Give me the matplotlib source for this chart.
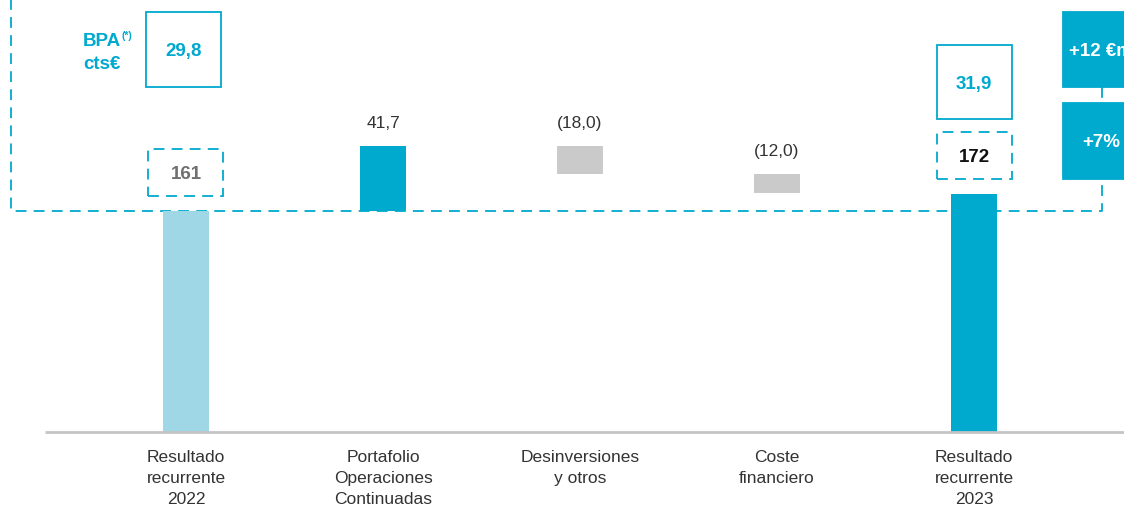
import matplotlib
matplotlib.use("Agg")
import matplotlib.pyplot as plt
import matplotlib.transforms as mtransforms
from matplotlib.patches import Rectangle

plt.rcParams['font.family'] = ['Liberation Sans', 'DejaVu Sans']

# waterfall data (M€)
categories = ["Resultado\nrecurrente\n2022", "Portafolio\nOperaciones\nContinuadas",
              "Desinversiones\ny otros", "Coste\nfinanciero", "Resultado\nrecurrente\n2023"]
start_value = 161
steps = [41.7, -18.0, -12.0]
end_value = 172
step_labels = ["41,7", "(18,0)", "(12,0)"]
bpa_values = ["29,8", "31,9"]
growth_labels = ["+12 €m", "+7%"]

TEAL = "#00a9ce"
LIGHT = "#a0d7e7"
GREY_BAR = "#cacaca"
TEXT = "#333333"

W, H = 1124, 510
fig = plt.figure(figsize=(W / 100, H / 100), dpi=100)
ax = fig.add_axes([0, 0, 1, 1])
ax.set_xlim(-0.944, 4.761)
ax.set_ylim(-31.3, 297.8)
ax.axis("off")

# pixel coords measured from the top-left corner
px = mtransforms.Affine2D().scale(1 / W, -1 / H).translate(0, 1) + fig.transFigure

base = 18.4
bw = 0.234
x = list(range(len(categories)))

# totals
ax.bar(x[0], start_value - base, bottom=base, width=bw, color=LIGHT, zorder=3)
ax.bar(x[-1], end_value - base, bottom=base, width=bw, color=TEAL, zorder=3)

# steps
level = start_value
for i, (s, lab) in enumerate(zip(steps, step_labels), start=1):
    bottom = level if s > 0 else level + s
    ax.bar(x[i], abs(s), bottom=bottom, width=bw,
           color=TEAL if s > 0 else GREY_BAR, zorder=3)
    ax.annotate(lab, (x[i], bottom + abs(s)), xytext=(0, 17), textcoords="offset points",
                ha="center", va="center", fontsize=12.5, color=TEXT)
    level += s

# baseline
ax.plot([45, W], [433, 433], transform=px, color="#c4c4c4", lw=2, zorder=4,
        solid_capstyle="butt", clip_on=False)

# category labels
lab_tr = mtransforms.blended_transform_factory(ax.transData, px)
for xi, cat in zip(x, categories):
    ax.text(xi, 450, cat, transform=lab_tr, ha="center", va="top",
            fontsize=12.5, color=TEXT, linespacing=1.5)

# dashed outline of the BPA panel
dash = dict(color=TEAL, lw=1.3, ls=(0, (6, 4)), transform=px, clip_on=False, zorder=2)
row161 = H - ax.transData.transform((0, start_value))[1]
ax.plot([11, 11, 1102, 1102], [-5, row161, row161, 180], **dash)
ax.plot([1102, 1102], [88, 104], **dash)


def box(x0, r0, w, h, text, edge=TEAL, face="none", dashed=False, tcolor=TEAL):
    ax.add_patch(Rectangle((x0, r0 + h), w, -h, transform=px, facecolor=face,
                           edgecolor=edge, lw=1.3, ls=(0, (6, 4)) if dashed else "-",
                           clip_on=False, zorder=5))
    ax.text(x0 + w / 2, r0 + h / 2 + 1, text, transform=px, ha="center", va="center",
            fontsize=13.5, fontweight="bold", color=tcolor, zorder=6)


def bar_center_px(i):
    return ax.transData.transform((x[i], 0))[0]


def bar_top_row(value):
    return H - ax.transData.transform((0, value))[1]


# value boxes above the totals
c0, c4 = bar_center_px(0), bar_center_px(4)
box(c0 - 37.5, bar_top_row(start_value) - 15 - 47, 75, 47, str(start_value),
    dashed=True, tcolor="#707070")
box(c4 - 37.5, bar_top_row(end_value) - 15 - 47, 75, 47, str(end_value),
    dashed=True, tcolor="#111111")

# BPA boxes
box(c0 - 40, 13, 75, 75, bpa_values[0])
box(c4 - 37.5, 46, 75, 74, bpa_values[1])

# growth boxes (the right one runs off the edge)
box(1063, 13, 76, 75, growth_labels[0], edge=TEAL, face=TEAL, tcolor="white")
box(1063, 104, 76, 76, growth_labels[1], edge=TEAL, face=TEAL, tcolor="white")

ax.text(83, 46, "BPA", transform=px, fontsize=13.5, fontweight="bold", color=TEAL,
        ha="left", va="baseline")
ax.text(122, 39, "(*)", transform=px, fontsize=7.5, fontweight="bold", color=TEAL,
        ha="left", va="baseline")
ax.text(83, 69, "cts€", transform=px, fontsize=13.5, fontweight="bold", color=TEAL,
        ha="left", va="baseline")

fig.savefig("out.png", dpi=100)
